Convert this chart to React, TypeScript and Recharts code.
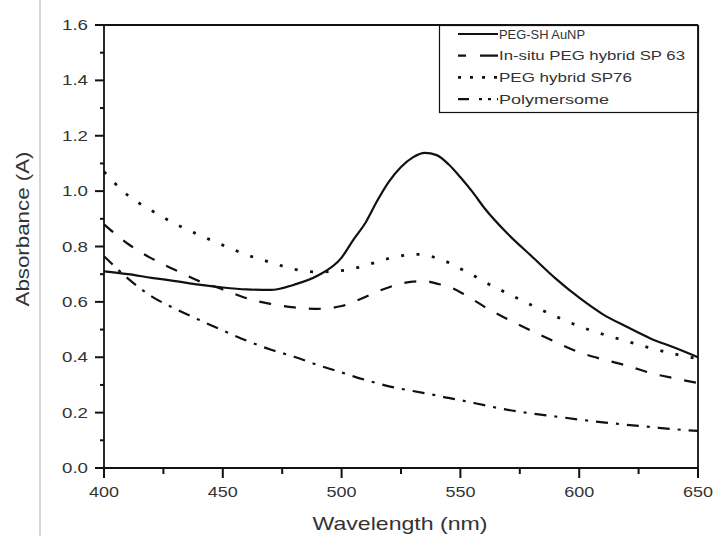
import React from "react";
import { LineChart, Line, XAxis, YAxis, ReferenceLine } from "recharts";

// Wavelength grid (nm)
const wavelengths = [
  400, 410, 420, 430, 440, 450, 460, 470, 480, 490, 500, 505, 510, 515, 520, 525,
  530, 535, 540, 545, 550, 555, 560, 570, 580, 590, 600, 610, 620, 630, 640, 650,
];

// Absorbance spectra (A)
const pegShAuNP = [
  0.71, 0.7, 0.687, 0.675, 0.662, 0.652, 0.645, 0.643, 0.662, 0.695, 0.76, 0.825, 0.885, 0.965, 1.035, 1.087,
  1.122, 1.138, 1.13, 1.097, 1.05, 0.998, 0.94, 0.845, 0.765, 0.685, 0.615, 0.555, 0.51, 0.468, 0.435, 0.4,
];
const inSituSP63 = [
  0.88, 0.81, 0.757, 0.715, 0.675, 0.645, 0.613, 0.593, 0.58, 0.575, 0.585, 0.6, 0.618, 0.637, 0.653, 0.666,
  0.673, 0.675, 0.666, 0.655, 0.635, 0.61, 0.583, 0.537, 0.495, 0.455, 0.418, 0.392, 0.37, 0.343, 0.324, 0.307,
];
const pegHybridSP76 = [
  1.07, 0.985, 0.93, 0.882, 0.842, 0.805, 0.77, 0.743, 0.718, 0.708, 0.713, 0.72, 0.732, 0.744, 0.757, 0.766,
  0.772, 0.77, 0.758, 0.742, 0.72, 0.698, 0.673, 0.63, 0.588, 0.548, 0.512, 0.483, 0.458, 0.433, 0.412, 0.395,
];
const polymersome = [
  0.765, 0.685, 0.62, 0.575, 0.535, 0.497, 0.46, 0.428, 0.402, 0.372, 0.345, 0.331, 0.318, 0.306, 0.295, 0.286,
  0.278, 0.27, 0.262, 0.253, 0.245, 0.236, 0.227, 0.21, 0.197, 0.186, 0.175, 0.165, 0.156, 0.148, 0.14, 0.134,
];

const xMajorTicks = [400, 450, 500, 550, 600, 650];
const xMinorTicks = [425, 475, 525, 575, 625];
const yMajorTicks = [0, 0.2, 0.4, 0.6, 0.8, 1.0, 1.2, 1.4, 1.6];
const yMinorTicks = [0.1, 0.3, 0.5, 0.7, 0.9, 1.1, 1.3, 1.5];

const seriesNames = ["PEG-SH AuNP", "In-situ PEG hybrid SP 63", "PEG hybrid SP76", "Polymersome"];

const data = wavelengths.map((w, i) => ({
  w,
  a: pegShAuNP[i],
  b: inSituSP63[i],
  c: pegHybridSP76[i],
  d: polymersome[i],
}));

const X_DOMAIN: [number, number] = [400, 650];
const Y_DOMAIN: [number, number] = [0, 1.6];
// plot box size in px, used to express minor tick lengths in axis units
const PLOT_W = 594;
const PLOT_H = 443;
const xUnitsPerPx = (X_DOMAIN[1] - X_DOMAIN[0]) / PLOT_W;
const yUnitsPerPx = (Y_DOMAIN[1] - Y_DOMAIN[0]) / PLOT_H;

const INK = "#111";
const LABEL = "#333";
const FONT = "'Liberation Sans', Arial, sans-serif";
const TICK_W = 2;

const styles = [
  { key: "a", dash: undefined as string | undefined, width: 2.2, legendDash: undefined as string | undefined, textLen: 86 },
  { key: "b", dash: "12 13", width: 2.2, legendDash: "8 14 18", textLen: 186 },
  { key: "c", dash: "3 12.5", width: 2.8, legendDash: "3 9", textLen: 133 },
  { key: "d", dash: "12 8 3 8", width: 2.2, legendDash: "11 10 3 6 3 6", textLen: 110 },
];

const XLabel = (props: any) => {
  const x = Number(props.x);
  const y = Number(props.y);
  const v = Number(props.payload?.value);
  return (
    <text
      x={x}
      y={y + 19}
      textAnchor="middle"
      fontFamily={FONT}
      fontSize={15}
      fill={LABEL}
      textLength={30}
      lengthAdjust="spacingAndGlyphs"
    >
      {v}
    </text>
  );
};

const YLabel = (props: any) => {
  const x = Number(props.x);
  const y = Number(props.y);
  const v = Number(props.payload?.value);
  return (
    <text
      x={x - 33}
      y={y + 5}
      textAnchor="start"
      fontFamily={FONT}
      fontSize={15}
      fill={LABEL}
      textLength={26}
      lengthAdjust="spacingAndGlyphs"
    >
      {v.toFixed(1)}
    </text>
  );
};

// Legend box, drawn in the chart's own svg at the top-right corner of the plot
const LegendBox = () => (
  <g transform="translate(439 25)">
    <rect x={0.5} y={0.5} width={259} height={87} fill="#fff" stroke={INK} strokeWidth={1.2} />
    {styles.map((s, i) => {
      const cy = 9 + i * 21.7;
      return (
        <g key={s.key}>
          <line
            x1={19}
            x2={59}
            y1={cy}
            y2={cy}
            stroke={INK}
            strokeWidth={s.key === "c" ? 2.6 : 2.2}
            strokeDasharray={s.legendDash}
          />
          <text
            x={60}
            y={cy + 4.5}
            fontFamily={FONT}
            fontSize={13}
            fill={LABEL}
            textLength={s.textLen}
            lengthAdjust="spacingAndGlyphs"
          >
            {seriesNames[i]}
          </text>
        </g>
      );
    })}
  </g>
);

export default function App() {
  return (
    <div style={{ position: "absolute", left: 0, top: 0, width: 714, height: 536, background: "#fff" }}>
      <LineChart width={714} height={536} data={data} margin={{ top: 25, right: 16, bottom: 0, left: 0 }}>
        <line x1={40} x2={40} y1={0} y2={536} stroke="#d6d6d6" strokeWidth={2} />
        <XAxis
          dataKey="w"
          type="number"
          domain={X_DOMAIN}
          ticks={xMajorTicks}
          interval={0}
          height={68}
          tickSize={10}
          tickMargin={0}
          tickLine={{ stroke: INK, strokeWidth: TICK_W }}
          tick={<XLabel />}
          axisLine={{ stroke: INK, strokeWidth: 1.8 }}
        />
        <YAxis
          type="number"
          domain={Y_DOMAIN}
          ticks={yMajorTicks}
          interval={0}
          width={104}
          tickSize={9}
          tickMargin={0}
          tickLine={{ stroke: INK, strokeWidth: TICK_W }}
          tick={<YLabel />}
          axisLine={{ stroke: INK, strokeWidth: 1.8 }}
        />
        <ReferenceLine y={1.6} stroke={INK} strokeWidth={1.8} />
        <ReferenceLine x={650} stroke={INK} strokeWidth={1.8} />
        {xMinorTicks.map((v) => (
          <ReferenceLine
            key={`xm${v}`}
            segment={[
              { x: v, y: Y_DOMAIN[0] },
              { x: v, y: Y_DOMAIN[0] - 6 * yUnitsPerPx },
            ]}
            ifOverflow="visible"
            stroke={INK}
            strokeWidth={TICK_W}
          />
        ))}
        {yMinorTicks.map((v) => (
          <ReferenceLine
            key={`ym${v}`}
            segment={[
              { x: X_DOMAIN[0], y: v },
              { x: X_DOMAIN[0] - 4 * xUnitsPerPx, y: v },
            ]}
            ifOverflow="visible"
            stroke={INK}
            strokeWidth={TICK_W}
          />
        ))}
        {styles.map((s, i) => (
          <Line
            key={s.key}
            dataKey={s.key}
            name={seriesNames[i]}
            type="monotone"
            stroke={INK}
            strokeWidth={s.width}
            strokeDasharray={s.dash}
            dot={false}
            activeDot={false}
            isAnimationActive={false}
          />
        ))}
        <LegendBox />
        <text
          x={400}
          y={530}
          textAnchor="middle"
          fontFamily={FONT}
          fontSize={19}
          fill={LABEL}
          textLength={175}
          lengthAdjust="spacingAndGlyphs"
        >
          Wavelength (nm)
        </text>
        <text
          x={0}
          y={0}
          transform="translate(29 229) rotate(-90)"
          textAnchor="middle"
          fontFamily={FONT}
          fontSize={19}
          fill={LABEL}
          textLength={155}
          lengthAdjust="spacingAndGlyphs"
        >
          Absorbance (A)
        </text>
      </LineChart>
    </div>
  );
}
